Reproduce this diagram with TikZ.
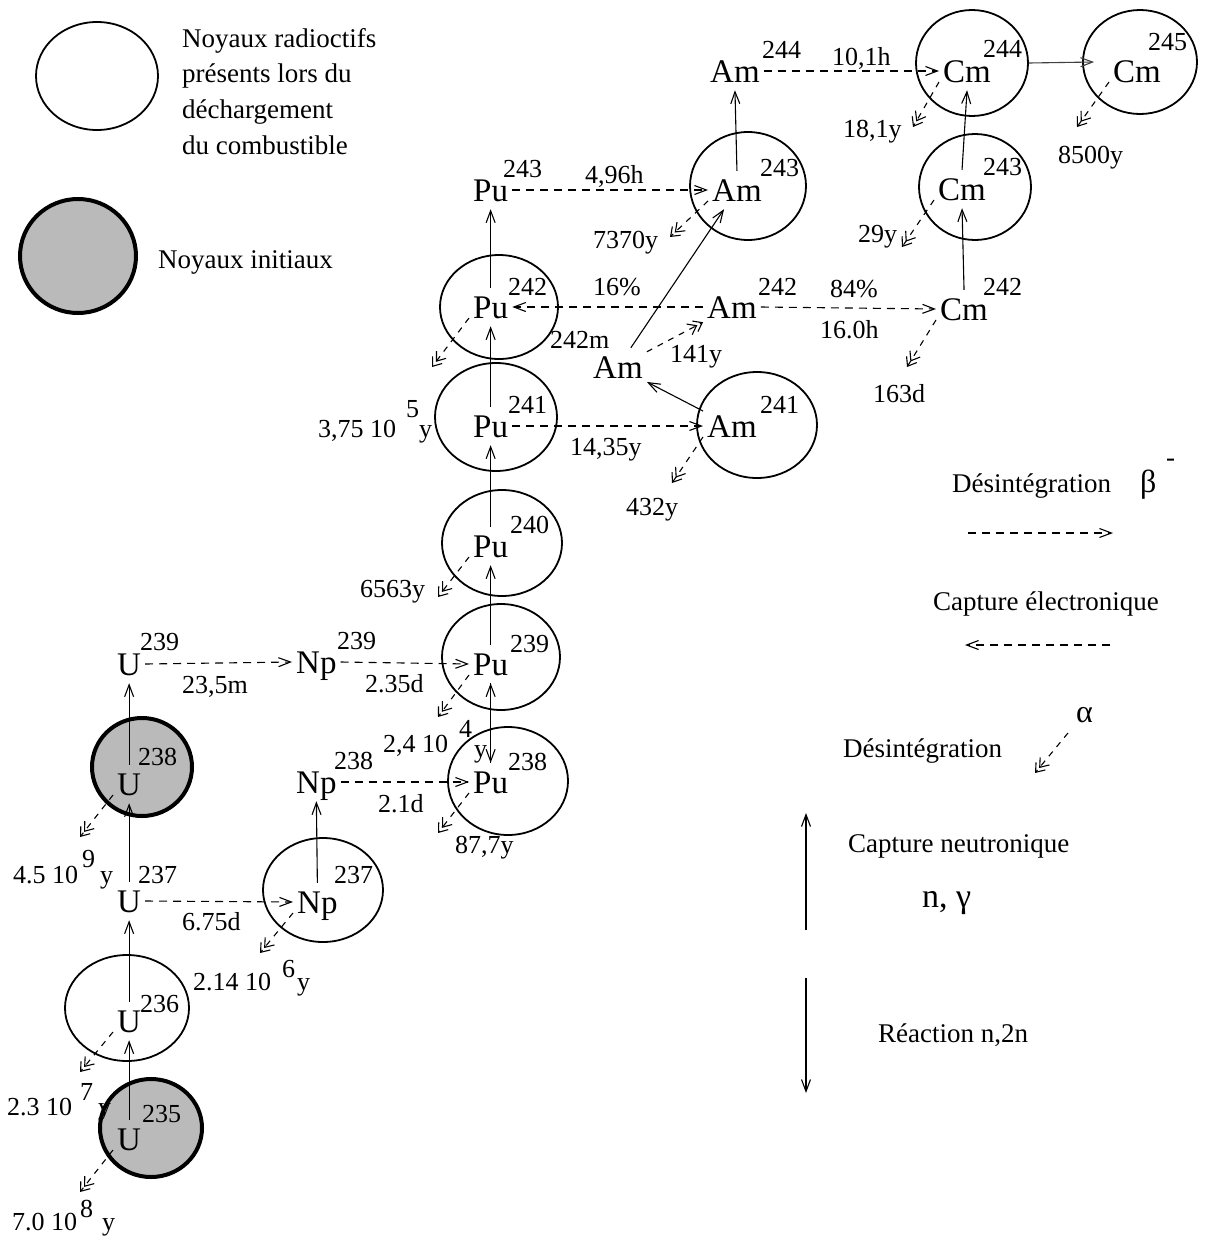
\documentclass[tikz,border=0pt]{standalone}
\usepackage{fontspec}
\setmainfont{Liberation Serif}
\usetikzlibrary{arrows.meta,shapes.geometric,calc}
\begin{document}
\begin{tikzpicture}[x=1pt,y=-1pt,
 sym/.style={font=\fontsize{33}{33}\selectfont, inner xsep=4pt, inner ysep=8pt, text height=22pt, text depth=0pt, anchor=base west},
 sup/.style={font=\fontsize{26}{26}\selectfont, inner sep=0pt, anchor=base west},
 lab/.style={font=\fontsize{26}{26}\selectfont, inner sep=0pt, anchor=base west},
 leg/.style={font=\fontsize{27}{27}\selectfont, inner sep=0pt, anchor=base west},
 nuc/.style={ellipse, draw, line width=1.8pt, inner sep=0pt},
 ini/.style={ellipse, draw, line width=4pt, fill=black!27, inner sep=0pt},
 ncap/.style={line width=1.1pt, -{Straight Barb[length=12pt,width=9pt]}},
 beta/.style={line width=1.1pt, dash pattern=on 8pt off 6pt, -{Straight Barb[length=12pt,width=9pt]}},
 alph/.style={line width=1.1pt, dash pattern=on 6pt off 6pt, -{Straight Barb[length=8pt,width=12pt,sep=-3pt]Straight Barb[length=8pt,width=12pt]}},
]
\useasboundingbox[fill=white] (0,0) rectangle (1227,1245);

% ---------- legend top-left ----------
\node[nuc, minimum width=122pt, minimum height=108pt] (lego) at (97,76) {};
\node[ini, minimum width=116pt, minimum height=114pt] (legg) at (78,256) {};
\node[leg, align=left, anchor=north west, font=\fontsize{27}{35.7}\selectfont] (legt) at (182,28) {Noyaux radioctifs\\présents lors du\\déchargement\\du combustible};
\node[leg] (legi) at (158,268) {Noyaux initiaux};

% ---------- ellipses ----------
\node[nuc, minimum width=116pt, minimum height=108pt] (eam243) at (748,186) {};
\node[nuc, minimum width=112pt, minimum height=106pt] (ecm244) at (972,63) {};
\node[nuc, minimum width=114pt, minimum height=104pt] (ecm245) at (1140,62) {};
\node[nuc, minimum width=112pt, minimum height=106pt] (ecm243) at (975,187) {};
\node[nuc, minimum width=118pt, minimum height=104pt] (epu242) at (499,307) {};
\node[nuc, minimum width=122pt, minimum height=108pt] (epu241) at (496,417) {};
\node[nuc, minimum width=120pt, minimum height=106pt] (eam241) at (757,425) {};
\node[nuc, minimum width=120pt, minimum height=106pt] (epu240) at (502,543) {};
\node[nuc, minimum width=118pt, minimum height=106pt] (epu239) at (501,657) {};
\node[nuc, minimum width=120pt, minimum height=108pt] (epu238) at (508,781) {};
\node[ini, minimum width=100pt, minimum height=98pt] (eu238) at (142,767) {};
\node[nuc, minimum width=120pt, minimum height=104pt] (enp237) at (323,890) {};
\node[nuc, minimum width=124pt, minimum height=106pt] (eu236) at (127,1008) {};
\node[ini, minimum width=102pt, minimum height=98pt] (eu235) at (151,1128) {};

% ---------- symbols ----------
\node[sym] (pu243) at (469,201) {Pu}; \node[sup] at (503,177) {243};
\node[sym] (am243) at (708,201) {Am}; \node[sup] at (760,176) {243};
\node[sym] (am244) at (706,82) {Am};  \node[sup] at (762,58) {244};
\node[sym] (cm244) at (939,82) {Cm};  \node[sup] at (983,57) {244};
\node[sym] (cm245) at (1109,82) {Cm}; \node[sup] at (1148,50) {245};
\node[sym] (cm243) at (934,200) {Cm}; \node[sup] at (983,175) {243};
\node[sym] (cm242) at (936,320) {Cm}; \node[sup] at (983,295) {242};
\node[sym] (am242) at (703,318) {Am}; \node[sup] at (758,295) {242};
\node[sym] (pu242) at (469,318) {Pu}; \node[sup] at (508,295) {242};
\node[sym] (am242m) at (589,378) {Am}; \node[sup] at (550,348) {242m};
\node[sym] (pu241) at (469,437) {Pu}; \node[sup] at (508,413) {241};
\node[sym] (am241) at (703,437) {Am}; \node[sup] at (760,413) {241};
\node[sym] (pu240) at (469,557) {Pu}; \node[sup] at (510,533) {240};
\node[sym] (pu239) at (469,675) {Pu}; \node[sup] at (510,652) {239};
\node[sym] (np239) at (292,673) {Np}; \node[sup] at (337,649) {239};
\node[sym] (pu238) at (469,793) {Pu}; \node[sup] at (508,770) {238};
\node[sym] (np238) at (292,793) {Np}; \node[sup] at (334,769) {238};
\node[sym] (u239) at (113,675) {U};   \node[sup] at (140,650) {239};
\node[sym] (u238) at (113,795) {U};   \node[sup] at (138,765) {238};
\node[sym] (u237) at (113,912) {U};   \node[sup] at (138,883) {237};
\node[sym] (np237) at (293,913) {Np}; \node[sup] at (334,883) {237};
\node[sym] (u236) at (113,1032) {U};  \node[sup] at (140,1012) {236};
\node[sym] (u235) at (113,1150) {U};  \node[sup] at (142,1122) {235};

% ---------- labels ----------
\node[lab] at (585,183) {4,96h};
\node[lab] at (593,248) {7370y};
\node[lab] at (593,295) {16\%};
\node[lab] at (670,362) {141y};
\node[lab] at (570,455) {14,35y};
\node[lab] at (626,515) {432y};
\node[lab] at (832,65) {10,1h};
\node[lab] at (843,137) {18,1y};
\node[lab] at (1058,163) {8500y};
\node[lab] at (858,242) {29y};
\node[lab] at (830,297) {84\%};
\node[lab] at (820,338) {16.0h};
\node[lab] at (873,402) {163d};
\node[lab] at (360,597) {6563y};
\node[lab] at (365,692) {2.35d};
\node[lab] at (383,752) {2,4 10}; \node[lab] at (459,737) {4}; \node[lab] at (474,757) {y};
\node[lab] at (378,812) {2.1d};
\node[lab] at (455,853) {87,7y};
\node[lab] at (318,437) {3,75 10}; \node[lab] at (406,417) {5}; \node[lab] at (419,437) {y};
\node[lab] at (182,693) {23,5m};
\node[lab] at (13,883) {4.5 10}; \node[lab] at (82,867) {9}; \node[lab] at (100,883) {y};
\node[lab] at (182,930) {6.75d};
\node[lab] at (193,990) {2.14 10}; \node[lab] at (282,977) {6}; \node[lab] at (297,990) {y};
\node[lab] at (7,1115) {2.3 10}; \node[lab] at (80,1100) {7}; \node[lab] at (98,1115) {y};
\node[lab] at (12,1230) {7.0 10}; \node[lab] at (80,1217) {8}; \node[lab] at (102,1230) {y};

% ---------- neutron captures ----------
\draw[ncap] (pu242.north) -- (pu243.south);
\draw[ncap] (pu241.north) -- (pu242.south);
\draw[ncap] (pu240.north) -- (pu241.south);
\draw[ncap] (pu239.north) -- (pu240.south);
\draw[ncap] (pu238.north) -- (pu239.south);
\draw[ncap] (pu239.south) -- (pu238.north);
\draw[ncap] (am243.north) -- (am244.south);
\draw[ncap] (cm243.north) -- (cm244.south);
\draw[ncap] (cm242.north) -- (cm243.south);
\draw[ncap, draw=black!75] (ecm244.east) -- ($(ecm245.west)+(12,0)$);
\draw[ncap] (am242m) -- (am243);
\draw[ncap] (am241) -- (am242m);
\draw[ncap] (np237.north) -- (np238.south);
\draw[ncap] (u238.north) -- (u239.south);
\draw[ncap] (u237.north) -- (u238.south);
\draw[ncap] (u236.north) -- (u237.south);
\draw[ncap] (u235.north) -- (u236.south);

% ---------- beta / EC ----------
\draw[beta] (pu243.east) -- (am243.west);
\draw[beta] (am244.east) -- (cm244.west);
\draw[beta] (am242.west) -- (pu242.east);
\draw[beta] (am242.east) -- (cm242.west);
\draw[beta] (pu241.east) -- (am241.west);
\draw[beta] (u239.east) -- (np239.west);
\draw[beta] (np239.east) -- (pu239.west);
\draw[beta] (np238.east) -- (pu238.west);
\draw[beta] (u237.east) -- (np237.west);

% ---------- alpha ----------
\coordinate (apu242) at (432,367);
\coordinate (apu240) at (438,597);
\coordinate (apu239) at (438,717);
\coordinate (apu238) at (438,833);
\coordinate (aam243) at (670,237);
\coordinate (aam241) at (672,483);
\coordinate (acm244) at (913,127);
\coordinate (acm245) at (1077,127);
\coordinate (acm243) at (902,247);
\coordinate (acm242) at (907,367);
\coordinate (anp237) at (260,953);
\coordinate (au238) at (80,837);
\coordinate (au236) at (80,1072);
\coordinate (au235) at (80,1192);
\draw[alph] (pu242.base west) -- (apu242);
\draw[alph] (pu240.base west) -- (apu240);
\draw[alph] (pu239.base west) -- (apu239);
\draw[alph] (pu238.base west) -- (apu238);
\draw[alph] (am243.base west) -- (aam243);
\draw[alph] (am241.base west) -- (aam241);
\draw[alph] (cm244.base west) -- (acm244);
\draw[alph] (cm245.base west) -- (acm245);
\draw[alph] (cm243.base west) -- (acm243);
\draw[alph] (cm242.base west) -- (acm242);
\draw[alph] (np237.base west) -- (anp237);
\draw[alph] (u238.base west) -- (au238);
\draw[alph] (u236.base west) -- (au236);
\draw[alph] (u235.base west) -- (au235);
\draw[alph] (am242m) -- (am242);

% ---------- legend right ----------
\node[leg] (lbeta) at (952,492) {Désintégration};
\node[leg, font=\fontsize{32}{32}\selectfont] (lbsym) at (1140,492) {β};
\node[leg] (lbm) at (1166,466) {-};
\coordinate (lb1) at (968,533); \coordinate (lb2) at (1113,533);
\draw[beta] (lb1) -- (lb2);
\node[leg] (lec) at (933,610) {Capture électronique};
\coordinate (le1) at (1110,645); \coordinate (le2) at (965,645);
\draw[beta] (le1) -- (le2);
\node[leg, font=\fontsize{32}{32}\selectfont] (lal) at (1076,722) {α};
\node[leg] (ldes) at (843,757) {Désintégration};
\coordinate (la1) at (1068,733); \coordinate (la2) at (1035,773);
\draw[alph] (la1) -- (la2);
\coordinate (ln1) at (806,930); \coordinate (ln2) at (806,813);
\draw[ncap] (ln1) -- (ln2);
\node[leg] (lcn) at (848,852) {Capture neutronique};
\node[leg, font=\fontsize{34}{34}\selectfont] (lng) at (922,907) {n, γ};
\coordinate (lr1) at (806,978); \coordinate (lr2) at (806,1093);
\draw[ncap] (lr1) -- (lr2);
\node[leg] (lrn) at (878,1042) {Réaction n,2n};
\end{tikzpicture}
\end{document}
